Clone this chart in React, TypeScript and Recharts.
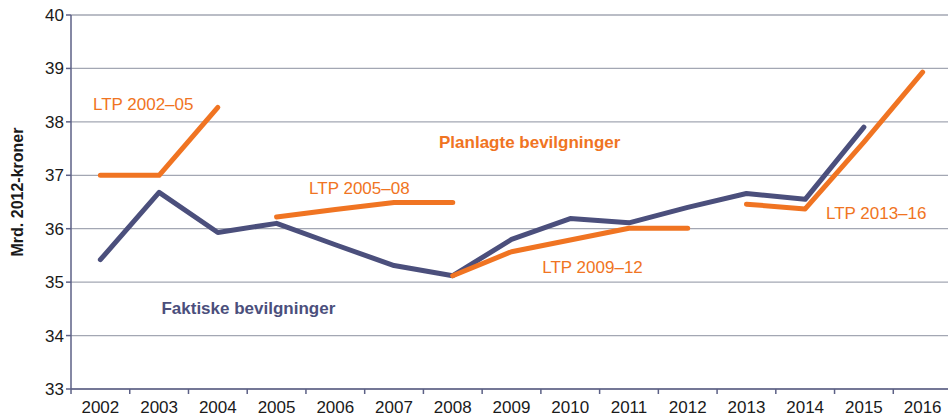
import { LineChart, Line, XAxis, YAxis, CartesianGrid, ReferenceDot } from "recharts";

const years = [2002, 2003, 2004, 2005, 2006, 2007, 2008, 2009, 2010, 2011, 2012, 2013, 2014, 2015, 2016];
const faktiske = [35.42, 36.68, 35.93, 36.1, 35.7, 35.31, 35.12, 35.8, 36.19, 36.11, 36.4, 36.66, 36.55, 37.9, null];
const ltp0205 = [37.0, 37.0, 38.27, null, null, null, null, null, null, null, null, null, null, null, null];
const ltp0508 = [null, null, null, 36.22, 36.36, 36.49, 36.49, null, null, null, null, null, null, null, null];
const ltp0912 = [null, null, null, null, null, null, 35.12, 35.57, 35.79, 36.01, 36.01, null, null, null, null];
const ltp1316 = [null, null, null, null, null, null, null, null, null, null, null, 36.46, 36.37, 37.62, 38.93];
const yTicks = [33, 34, 35, 36, 37, 38, 39, 40];

// annotation text, placed in data coordinates
const notes = [
  { x: 2002.73, y: 38.32, text: "LTP 2002–05", bold: false, color: "#f07422" },
  { x: 2009.31, y: 37.62, text: "Planlagte bevilgninger", bold: true, color: "#f07422" },
  { x: 2006.41, y: 36.76, text: "LTP 2005–08", bold: false, color: "#f07422" },
  { x: 2010.38, y: 35.28, text: "LTP 2009–12", bold: false, color: "#f07422" },
  { x: 2015.21, y: 36.29, text: "LTP 2013–16", bold: false, color: "#f07422" },
  { x: 2004.52, y: 34.5, text: "Faktiske bevilgninger", bold: true, color: "#4b4f7c" },
];

const ORANGE = "#f07422";
const NAVY = "#4b4f7c";
const AXIS = "#5c6186";
const GRID = "#a3a7b3";
const FONT = "'Liberation Sans', Arial, sans-serif";
const HALF_BAND = 29.35;

const data = years.map((year, i) => ({
  year,
  faktiske: faktiske[i],
  ltp0205: ltp0205[i],
  ltp0508: ltp0508[i],
  ltp0912: ltp0912[i],
  ltp1316: ltp1316[i],
}));

function YearTick(props: any) {
  const { x, payload } = props;
  return (
    <g>
      <line x1={x - HALF_BAND} x2={x - HALF_BAND} y1={389} y2={394} stroke={AXIS} strokeWidth={1.5} />
      <text x={x} y={407} textAnchor="middle" dominantBaseline="central" fill="#1a1a1a" fontSize={17} fontFamily={FONT}>
        {payload.value}
      </text>
    </g>
  );
}

function YTitle(props: any) {
  const { viewBox } = props;
  const cx = viewBox.x + 17;
  const cy = 192;
  return (
    <text x={cx} y={cy} transform={`rotate(-90 ${cx} ${cy})`} textAnchor="middle" dominantBaseline="central"
          fill="#1a1a1a" fontSize={16} fontWeight={700} fontFamily={FONT}>
      Mrd. 2012-kroner
    </text>
  );
}

function NoteLabel(props: any) {
  const { viewBox, value, bold, color } = props;
  const cx = viewBox.x + (viewBox.width || 0) / 2;
  const cy = viewBox.y + (viewBox.height || 0) / 2;
  return (
    <text x={cx} y={cy} textAnchor="middle" dominantBaseline="central" fill={color}
          fontSize={17} fontWeight={bold ? 700 : 400} fontFamily={FONT}>
      {value}
    </text>
  );
}

export default function App() {
  const lineProps = { type: "linear" as const, dot: false, strokeWidth: 5, strokeLinecap: "round" as const,
    strokeLinejoin: "round" as const, isAnimationActive: false, connectNulls: false };
  return (
    <div style={{ position: "fixed", left: 0, top: 0, width: 948, height: 414, overflow: "hidden", background: "#fff" }}>
      <LineChart width={952} height={414} data={data} margin={{ top: 15, right: 0, bottom: 0, left: 0 }}>
        <CartesianGrid vertical={false} stroke={GRID} strokeWidth={1.3} />
        <XAxis dataKey="year" type="number" domain={[2001.5, 2016.5]} ticks={years} height={25}
               axisLine={{ stroke: AXIS, strokeWidth: 1.5 }} tickLine={false}
               tick={<YearTick />} interval={0} allowDataOverflow />
        <YAxis domain={[33, 40]} ticks={yTicks} width={71} interval={0}
               axisLine={{ stroke: AXIS, strokeWidth: 1.5 }} tickLine={{ stroke: AXIS, strokeWidth: 1.5 }}
               tickSize={5} tickMargin={2}
               tick={{ fill: "#1a1a1a", fontSize: 17, fontFamily: FONT }}
               label={{ content: <YTitle /> }} />
        <Line dataKey="ltp0205" stroke={ORANGE} {...lineProps} />
        <Line dataKey="ltp0508" stroke={ORANGE} {...lineProps} />
        <Line dataKey="faktiske" stroke={NAVY} {...lineProps} />
        <Line dataKey="ltp0912" stroke={ORANGE} {...lineProps} />
        <Line dataKey="ltp1316" stroke={ORANGE} {...lineProps} />
        {notes.map((n) => (
          <ReferenceDot key={n.text} x={n.x} y={n.y} r={0} fill="none" stroke="none"
                        label={<NoteLabel value={n.text} bold={n.bold} color={n.color} />} />
        ))}
      </LineChart>
    </div>
  );
}
